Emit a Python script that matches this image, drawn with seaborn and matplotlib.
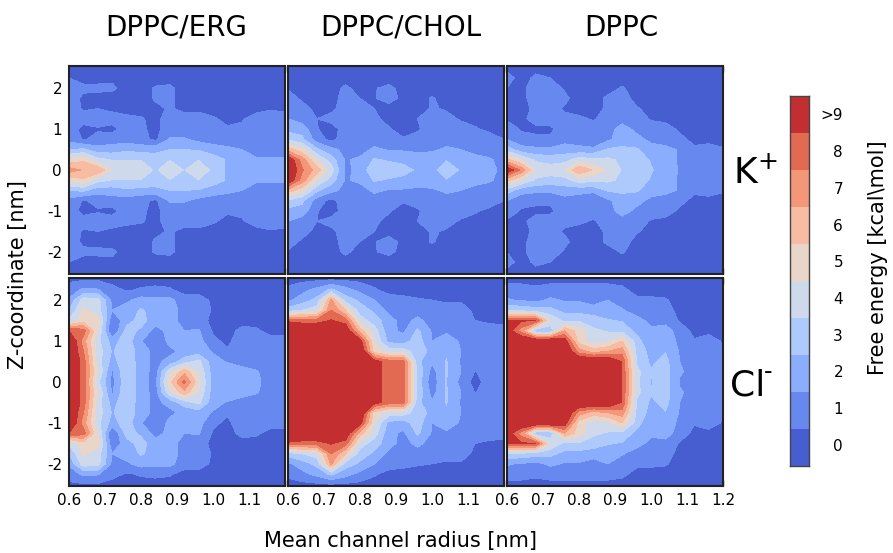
import numpy as np
import seaborn as sns
import matplotlib
matplotlib.use('Agg')
import matplotlib.pyplot as plt
from matplotlib.colors import BoundaryNorm, ListedColormap

# grid of the free energy maps, only z >= 0 is kept (maps are symmetric in z)
radius = [0.60, 0.64, 0.68, 0.72, 0.76, 0.80, 0.84, 0.88, 0.92, 0.96, 1.00, 1.04, 1.08, 1.12, 1.16, 1.20]
z_pos = [0, 0.25, 0.5, 0.75, 1.0, 1.25, 1.5, 1.75, 2.0, 2.25, 2.54]

k_erg = [
    [7.0, 6.4, 6.4, 4.4, 4.4, 4.4, 3.3, 4.4, 3.45, 4.4, 3.2, 2.3, 2.0, 2.0, 2.0, 2.0],
    [4.8, 5.3, 3.8, 3.45, 3.45, 3.45, 3.0, 3.45, 3.3, 3.45, 3.0, 2.4, 1.9, 1.6, 1.6, 1.6],
    [2.4, 2.7, 1.9, 2.0, 2.3, 2.1, 2.2, 2.5, 2.5, 2.4, 2.0, 1.8, 1.5, 1.2, 1.2, 1.2],
    [1.2, 0.4, 0.8, 1.0, 1.0, 0.8, 0.3, 1.6, 1.6, 1.2, 1.0, 0.8, 0.5, 0.9, 1.0, 1.0],
    [1.0, 0.2, 0.4, 0.2, 1.0, 0.7, 0.2, 1.0, 1.0, 1.0, 0.9, 0.6, 0.7, 1.0, 1.0, 1.0],
    [1.0, 0.9, 1.0, 0.9, 0.7, 0.6, 0.2, 1.0, 0.8, 0.9, 0.6, 0.3, 0.4, 0.9, 1.0, 0.9],
    [1.0, 0.4, 0.5, 0.3, 0.2, 0.1, 0.3, 0.6, 0.3, 0.3, 0.2, 0.2, 0.2, 0.2, 0.4, 0.3],
    [1.0, 0.3, 0.2, 0.1, 0.1, 0.1, 0.6, 0.7, 0.1, 0.1, 0.1, 0.1, 0.1, 0.1, 0.1, 0.1],
    [0.9, 0.7, 0.7, 0.7, 0.1, 0.1, 0.6, 0.7, 0.1, 0.1, 0.1, 0.1, 0.1, 0.1, 0.1, 0.1],
    [0.5, 0.2, 0.2, 0.3, 0.1, 0.1, 0.1, 0.1, 0.1, 0.1, 0.1, 0.1, 0.1, 0.1, 0.1, 0.1],
    [0.1, 0.1, 0.1, 0.1, 0.1, 0.1, 0.1, 0.1, 0.1, 0.1, 0.1, 0.1, 0.1, 0.1, 0.1, 0.1],
]
k_chol = [
    [10.0, 7.6, 6.0, 4.0, 1.2, 1.9, 3.2, 3.0, 3.0, 2.3, 2.2, 3.0, 2.4, 2.0, 1.8, 1.2],
    [9.5, 7.0, 4.5, 3.0, 1.4, 1.7, 2.6, 2.4, 2.1, 2.0, 2.2, 2.45, 2.2, 1.8, 1.6, 1.2],
    [6.0, 4.8, 2.7, 1.8, 1.2, 1.1, 1.7, 1.4, 1.4, 1.3, 1.3, 1.7, 1.5, 1.2, 1.1, 0.9],
    [3.3, 2.7, 1.0, 0.2, 1.0, 1.0, 1.0, 1.0, 0.6, 0.8, 1.0, 1.0, 1.0, 1.0, 0.9, 0.5],
    [2.2, 2.1, 0.55, 0.1, 0.9, 1.0, 1.0, 0.6, 0.1, 0.4, 0.9, 1.0, 0.9, 0.6, 0.3, 0.1],
    [1.5, 1.0, 0.5, 0.8, 1.0, 1.0, 0.7, 0.2, 0.1, 0.5, 0.8, 0.8, 0.4, 0.2, 0.1, 0.1],
    [1.0, 0.9, 0.2, 0.3, 0.9, 0.8, 0.5, 0.1, 0.1, 0.1, 0.6, 0.4, 0.1, 0.1, 0.1, 0.1],
    [1.0, 0.3, 0.1, 0.1, 0.9, 0.5, 0.45, 0.9, 0.25, 0.1, 0.6, 0.1, 0.1, 0.1, 0.1, 0.1],
    [0.4, 0.1, 0.1, 0.1, 0.7, 0.1, 0.45, 0.7, 0.25, 0.1, 0.1, 0.1, 0.1, 0.1, 0.1, 0.1],
    [0.1, 0.1, 0.1, 0.1, 0.1, 0.1, 0.1, 0.1, 0.1, 0.1, 0.1, 0.1, 0.1, 0.1, 0.1, 0.1],
    [0.1, 0.1, 0.1, 0.1, 0.1, 0.1, 0.1, 0.1, 0.1, 0.1, 0.1, 0.1, 0.1, 0.1, 0.1, 0.1],
]
k_dppc = [
    [9.5, 7.2, 4.4, 4.0, 4.45, 6.4, 5.4, 4.4, 3.4, 3.0, 2.6, 2.0, 1.4, 1.2, 1.1, 1.4],
    [5.8, 4.5, 3.3, 3.1, 3.1, 4.0, 3.7, 3.7, 3.3, 3.0, 2.4, 2.2, 1.3, 1.0, 1.0, 0.9],
    [3.0, 1.9, 1.7, 1.7, 2.0, 1.8, 1.8, 2.6, 2.7, 2.6, 2.0, 1.8, 1.4, 0.7, 0.9, 0.6],
    [1.5, 0.8, 0.8, 0.7, 1.1, 1.0, 0.45, 1.3, 2.0, 1.9, 1.2, 1.0, 0.8, 0.2, 0.2, 0.1],
    [1.0, 0.4, 0.2, 0.3, 1.0, 1.0, 1.0, 1.0, 2.0, 1.2, 1.0, 1.0, 0.3, 0.1, 0.1, 0.1],
    [0.4, 0.2, 1.0, 0.9, 0.7, 0.7, 0.4, 0.9, 1.0, 1.0, 0.4, 0.2, 0.1, 0.1, 0.1, 0.1],
    [0.2, 0.2, 0.7, 0.8, 0.4, 0.1, 0.1, 0.7, 1.0, 0.6, 0.2, 0.1, 0.1, 0.1, 0.1, 0.1],
    [0.1, 0.2, 1.0, 1.0, 0.7, 0.1, 0.1, 0.7, 0.9, 0.2, 0.1, 0.1, 0.1, 0.1, 0.1, 0.1],
    [0.5, 0.3, 0.9, 0.9, 0.4, 0.1, 0.1, 0.1, 0.6, 0.1, 0.1, 0.1, 0.1, 0.1, 0.1, 0.1],
    [0.9, 0.1, 0.7, 0.5, 0.1, 0.1, 0.1, 0.1, 0.1, 0.1, 0.1, 0.1, 0.1, 0.1, 0.1, 0.1],
    [0.1, 0.1, 0.1, 0.1, 0.1, 0.1, 0.1, 0.1, 0.1, 0.1, 0.1, 0.1, 0.1, 0.1, 0.1, 0.1],
]
cl_erg = [
    [10.0, 8.0, 3.8, 1.2, 3.3, 2.0, 1.1, 5.2, 7.8, 4.8, 2.0, 2.2, 2.1, 1.7, 1.1, 1.0],
    [10.0, 8.0, 4.5, 1.3, 3.3, 2.0, 1.1, 4.2, 6.2, 4.4, 2.0, 2.3, 2.0, 1.6, 1.0, 1.0],
    [10.0, 8.0, 4.0, 2.1, 3.2, 2.0, 1.2, 1.9, 3.0, 3.8, 1.9, 1.4, 1.0, 1.0, 1.0, 1.0],
    [10.0, 7.5, 4.0, 2.4, 3.2, 2.0, 1.2, 1.2, 1.8, 2.0, 1.4, 0.6, 1.0, 1.1, 1.0, 1.0],
    [10.0, 7.0, 3.8, 2.1, 3.0, 1.6, 0.4, 1.9, 1.6, 1.9, 0.7, 0.3, 1.0, 1.0, 1.0, 0.9],
    [8.5, 8.0, 4.5, 0.4, 2.9, 2.3, 1.1, 1.8, 1.5, 1.6, 0.4, 0.1, 0.8, 0.7, 0.1, 0.1],
    [3.7, 5.0, 5.0, 0.7, 2.1, 2.9, 1.9, 2.0, 1.0, 1.0, 0.2, 0.1, 0.1, 0.1, 0.1, 0.1],
    [2.5, 4.7, 4.0, 1.5, 2.0, 2.6, 2.2, 2.0, 1.1, 1.0, 0.4, 0.1, 0.1, 0.1, 0.1, 0.1],
    [1.6, 4.0, 3.9, 1.2, 1.3, 1.9, 1.8, 1.8, 0.9, 1.0, 0.3, 0.1, 0.1, 0.1, 0.1, 0.1],
    [1.0, 1.7, 1.6, 0.8, 0.4, 0.6, 0.7, 0.6, 0.2, 0.1, 0.1, 0.1, 0.1, 0.1, 0.1, 0.1],
    [0.2, 0.2, 0.2, 0.1, 0.1, 0.1, 0.1, 0.1, 0.1, 0.1, 0.1, 0.1, 0.1, 0.1, 0.1, 0.1],
]
cl_chol = [
    [10.0, 10.0, 10.0, 10.0, 10.0, 10.0, 9.0, 8.0, 8.0, 3.0, 0.9, 2.55, 1.2, 0.1, 1.0, 1.0],
    [10.0, 10.0, 10.0, 10.0, 10.0, 10.0, 9.0, 8.0, 8.0, 3.3, 1.1, 2.55, 1.5, 0.45, 1.0, 1.0],
    [10.0, 10.0, 10.0, 10.0, 10.0, 10.0, 9.0, 8.0, 8.0, 2.8, 1.6, 2.55, 1.4, 0.9, 1.0, 1.0],
    [10.0, 10.0, 10.0, 10.0, 10.0, 10.0, 5.0, 4.0, 4.0, 3.0, 2.2, 2.4, 1.5, 1.0, 1.0, 0.9],
    [10.0, 10.0, 10.0, 10.0, 10.0, 9.0, 4.5, 2.2, 2.0, 3.0, 1.5, 2.4, 1.3, 1.0, 1.0, 1.0],
    [10.0, 10.0, 10.0, 10.0, 9.5, 6.0, 4.0, 1.8, 1.3, 2.7, 1.4, 1.2, 1.0, 1.0, 1.0, 0.9],
    [8.3, 8.0, 8.0, 8.6, 8.0, 4.0, 3.0, 1.9, 1.1, 1.8, 1.0, 1.0, 1.0, 0.5, 0.3, 0.2],
    [3.0, 3.5, 4.0, 7.5, 5.5, 3.0, 2.3, 1.2, 0.9, 1.0, 1.0, 1.0, 0.9, 0.3, 0.1, 0.1],
    [1.3, 2.0, 2.8, 6.7, 3.0, 2.3, 1.5, 0.9, 0.8, 0.6, 0.5, 0.3, 0.4, 0.1, 0.1, 0.1],
    [0.7, 1.2, 1.8, 2.7, 1.9, 1.2, 0.6, 0.2, 0.1, 0.1, 0.1, 0.1, 0.1, 0.1, 0.1, 0.1],
    [0.1, 0.1, 0.1, 0.1, 0.1, 0.1, 0.1, 0.1, 0.1, 0.1, 0.1, 0.1, 0.1, 0.1, 0.1, 0.1],
]
cl_dppc = [
    [10.0, 10.0, 10.0, 10.0, 10.0, 10.0, 10.0, 10.0, 8.4, 3.8, 2.4, 3.0, 1.4, 1.2, 1.1, 1.4],
    [10.0, 10.0, 10.0, 10.0, 10.0, 10.0, 10.0, 10.0, 8.4, 3.8, 2.6, 2.9, 1.6, 1.2, 1.2, 1.0],
    [10.0, 10.0, 10.0, 10.0, 10.0, 10.0, 10.0, 10.0, 8.4, 3.4, 2.3, 2.8, 1.5, 1.0, 1.1, 0.9],
    [10.0, 10.0, 10.0, 10.0, 10.0, 7.0, 6.0, 6.5, 7.0, 3.3, 2.1, 2.45, 1.4, 0.6, 0.9, 0.5],
    [10.0, 10.0, 10.0, 10.0, 9.2, 5.0, 4.0, 4.2, 5.5, 3.0, 1.5, 2.0, 1.3, 0.6, 1.0, 0.4],
    [9.3, 7.0, 2.5, 2.5, 6.5, 5.0, 3.7, 3.4, 3.2, 2.2, 1.7, 1.9, 1.1, 0.2, 0.2, 0.1],
    [8.6, 8.6, 8.5, 4.5, 3.2, 3.4, 3.0, 2.6, 2.4, 1.9, 1.2, 1.2, 0.4, 0.1, 0.1, 0.1],
    [3.5, 3.2, 3.0, 2.8, 2.2, 2.1, 2.0, 1.8, 1.6, 1.0, 0.8, 0.9, 0.2, 0.1, 0.1, 0.1],
    [1.6, 1.4, 1.2, 1.7, 1.4, 1.4, 1.0, 1.5, 1.0, 0.7, 0.7, 0.6, 0.1, 0.1, 0.1, 0.1],
    [1.0, 0.9, 0.7, 0.9, 1.0, 1.0, 0.9, 0.9, 0.7, 0.2, 0.1, 0.1, 0.1, 0.1, 0.1, 0.1],
    [0.1, 0.1, 0.1, 0.1, 0.1, 0.1, 0.1, 0.1, 0.1, 0.1, 0.1, 0.1, 0.1, 0.1, 0.1, 0.1],
]

titles = ['DPPC/ERG', 'DPPC/CHOL', 'DPPC']
maps = [[k_erg, k_chol, k_dppc], [cl_erg, cl_chol, cl_dppc]]
x_ticks = [0.6, 0.7, 0.8, 0.9, 1.0, 1.1, 1.2]
y_ticks = [-2, -1, 0, 1, 2]
cbar_labels = ['0', '1', '2', '3', '4', '5', '6', '7', '8', '>9']

sns.set_style('white')
plt.rcParams['font.family'] = ['DejaVu Sans']
plt.rcParams['axes.unicode_minus'] = False

W, H = 893, 553
fig = plt.figure(figsize=(W / 100, H / 100), dpi=100)

# one colour per kcal/mol band, label sits in the middle of its band
base = sns.color_palette('coolwarm', as_cmap=True)
band_cols = [base(t) for t in np.linspace(0.04, 0.96, 10)]
cmap = ListedColormap(band_cols)
levels = [-0.5, 0.5, 1.5, 2.5, 3.5, 4.5, 5.5, 6.5, 7.5, 8.5, 20]
norm = BoundaryNorm(levels, 10)


def box(x0, y0, x1, y1):
    # pixel box -> figure fraction
    return [x0 / W, 1 - y1 / H, (x1 - x0) / W, (y1 - y0) / H]


lefts = [(69, 285), (288, 504), (507, 723)]
rows = [(66, 274), (278, 486)]
title_x = [176, 401, 621]
zz = np.array(z_pos)
z_all = np.concatenate([-zz[::-1], zz[1:]])

for i, (top, bottom) in enumerate(rows):
    for j, (left, right) in enumerate(lefts):
        ax = fig.add_axes(box(left, top, right, bottom))
        half = np.array(maps[i][j])
        grid = np.vstack([half[::-1], half[1:]])
        ax.contourf(radius, z_all, grid, levels=levels, cmap=cmap, norm=norm)
        ax.set_xlim(0.6, 1.2)
        ax.set_ylim(-2.54, 2.54)
        ax.set_xticks(x_ticks)
        ax.set_yticks(y_ticks)
        ax.tick_params(direction='in', top=True, right=True, bottom=True, left=True,
                       length=4, width=1, color='#222222', labelcolor='black',
                       labelsize=11, pad=5, labelbottom=i == 1, labelleft=j == 0)
        if i == 1 and j < 2:
            ax.set_xticklabels(['0.6', '0.7', '0.8', '0.9', '1.0', '1.1', ''])
        for s in ax.spines.values():
            s.set_linewidth(1.5)
            s.set_color('#222222')
        if i == 0:
            fig.text(title_x[j] / W, 1 - 28 / H, titles[j], fontsize=20,
                     ha='center', va='center', color='black')

fig.text(755 / W, 1 - 173 / H, 'K$^{+}$', fontsize=26, ha='center', va='center', color='black')
fig.text(730 / W, 1 - 385 / H, 'Cl', fontsize=26, ha='left', va='center', color='black')
fig.text(764 / W, 1 - 372 / H, '-', fontsize=17, ha='left', va='center', color='black')
fig.text(18 / W, 1 - 275 / H, 'Z-coordinate [nm]', fontsize=15, rotation=90,
         ha='center', va='center', color='black')
fig.text(401 / W, 1 - 541 / H, 'Mean channel radius [nm]', fontsize=15,
         ha='center', va='center', color='black')

# colour bar with evenly spaced bands
cax = fig.add_axes(box(790, 96, 809, 466))
cb_bounds = np.arange(11)
cax.pcolormesh([0, 1], cb_bounds, np.arange(10).reshape(-1, 1), cmap=cmap, vmin=-0.5, vmax=9.5)
cax.set_xticks([])
cax.set_yticks(np.linspace(0.57, 9.5, 10))
cax.set_yticklabels(cbar_labels, ha='right')
cax.yaxis.tick_right()
cax.tick_params(axis='y', length=0, labelsize=11, pad=24.5, labelcolor='black')
for s in cax.spines.values():
    s.set_linewidth(1)
    s.set_color('#444444')
fig.text(878 / W, 1 - 258 / H, 'Free energy [kcal\\mol]', fontsize=15, rotation=90,
         ha='center', va='center', color='black')

fig.savefig('out.png', dpi=100)
